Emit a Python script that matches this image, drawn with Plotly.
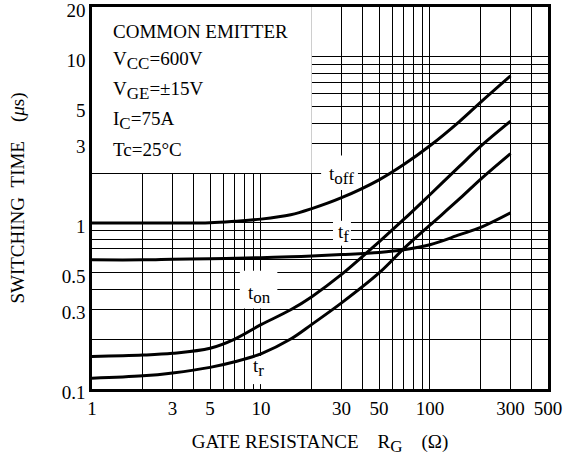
import math
import plotly.graph_objects as go

# ---- data ----
rg = [1, 2, 3, 5, 7, 10, 15, 20, 30, 50, 70, 100, 150, 200, 300]
t_off = [1.0, 1.0, 1.0, 1.005, 1.025, 1.055, 1.12, 1.22, 1.42, 1.82, 2.25, 2.92, 4.1, 5.35, 7.7]
t_on = [0.157, 0.16, 0.164, 0.176, 0.20, 0.244, 0.30, 0.36, 0.49, 0.77, 1.05, 1.48, 2.2, 2.9, 4.1]
t_f = [0.60, 0.60, 0.605, 0.61, 0.613, 0.618, 0.625, 0.632, 0.645, 0.665, 0.69, 0.74, 0.85, 0.94, 1.15]
t_r = [0.116, 0.12, 0.125, 0.135, 0.146, 0.163, 0.20, 0.245, 0.33, 0.50, 0.70, 0.97, 1.40, 1.84, 2.62]

x_grid = [1, 2, 3, 4, 5, 6, 7, 8, 9, 10, 20, 30, 40, 50, 60, 70, 80, 90, 100, 200, 300, 400, 500]
x_labels = ["1", "", "3", "", "5", "", "", "", "", "10", "", "30", "", "50", "", "", "", "", "100", "", "300", "", "500"]
y_grid = [0.1, 0.2, 0.3, 0.4, 0.5, 0.6, 0.7, 0.8, 0.9, 1, 2, 3, 4, 5, 6, 7, 8, 9, 10, 20]
y_labels = ["0.1", "", "0.3", "", "0.5", "", "", "", "", "1", "", "3", "", "5", "", "", "", "", "10", "20"]

SUB = "<sub><span style='font-size:17px'>{}</span></sub>"
conditions = ["COMMON EMITTER", "V" + SUB.format("CC") + "=600V", "V" + SUB.format("GE") + "=\u00b115V",
              "I" + SUB.format("C") + "=75A", "Tc=25\u00b0C"]

FONT = "Liberation Serif"

fig = go.Figure()
for ys in (t_off, t_on, t_f, t_r):
    fig.add_trace(go.Scatter(x=rg, y=ys, mode="lines", line=dict(color="black", width=3, shape="spline", smoothing=1.0),
                             showlegend=False, hoverinfo="skip"))

# white areas that hide the grid (conditions box and curve labels)
white_boxes = [
    (1, 20, 2, 20),
    (22.7, 37.5, 1.58, 2.55),
    (26.7, 34.1, 0.73, 1.03),
    (7.5, 12.5, 0.305, 0.515),
    (8.5, 11.1, 0.107, 0.158),
]
for x0, x1, y0, y1 in white_boxes:
    fig.add_shape(type="rect", xref="x", yref="y", x0=x0, x1=x1, y0=y0, y1=y1,
                  fillcolor="white", line=dict(width=0), layer="between")

curve_labels = [
    ("t" + SUB.format("off"), 30.0, 1.92),
    ("t" + SUB.format("f"), 30.6, 0.86),
    ("t" + SUB.format("on"), 9.8, 0.37),
    ("t" + SUB.format("r"), 9.7, 0.135),
]
for txt, lx, ly in curve_labels:
    fig.add_annotation(text=txt, x=math.log10(lx), y=math.log10(ly), xref="x", yref="y",
                       showarrow=False, font=dict(family=FONT, size=19, color="black"))

cond_y = [0.937, 0.859, 0.781, 0.703, 0.626]
for txt, py in zip(conditions, cond_y):
    fig.add_annotation(text=txt, x=0.042, y=py, xref="paper", yref="paper", xanchor="left", yanchor="middle",
                       showarrow=False, font=dict(family=FONT, size=19, color="black"))

axis_common = dict(
    type="log", showgrid=True, gridcolor="black", gridwidth=1,
    showline=True, linecolor="black", linewidth=2.5, mirror=True, automargin=False,
    ticks="", zeroline=False, tickfont=dict(family=FONT, size=19, color="black"),
    ticklabeloverflow="allow",
)
fig.update_xaxes(range=[0, math.log10(500)], tickmode="array", tickvals=x_grid, ticktext=x_labels,
                 title=dict(text="GATE RESISTANCE\u00a0\u00a0\u00a0\u00a0R" + SUB.format("G") + "\u00a0\u00a0\u00a0\u00a0(\u03a9)",
                            font=dict(family=FONT, size=19, color="black"), standoff=18),
                 **axis_common)
fig.update_yaxes(range=[-1, math.log10(20)], tickmode="array", tickvals=y_grid, ticktext=y_labels,
                 ticklabelshift=3,
                 title=dict(text="SWITCHING\u00a0\u00a0TIME\u00a0\u00a0\u00a0\u00a0(<i>\u03bc</i>s)",
                            font=dict(family=FONT, size=19, color="black"), standoff=33),
                 **axis_common)

fig.update_layout(width=568, height=457, margin=dict(l=92, r=20, t=7, b=68),
                  plot_bgcolor="white", paper_bgcolor="white")
fig.write_html("out.html", config={"displayModeBar": False},
               post_script="document.body.style.margin='0';")
